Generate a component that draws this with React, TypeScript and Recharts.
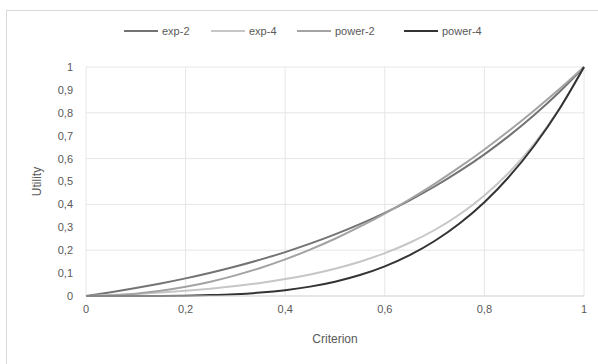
import { LineChart, Line, XAxis, YAxis, CartesianGrid } from 'recharts';

// criterion values (x)
const criterion = [0, 0.05, 0.1, 0.15, 0.2, 0.25, 0.3, 0.35, 0.4, 0.45, 0.5, 0.55, 0.6, 0.65, 0.7, 0.75, 0.8, 0.85, 0.9, 0.95, 1];

// utility curves
const exp2 = [0, 0.0165, 0.0347, 0.0548, 0.077, 0.1015, 0.1287, 0.1587, 0.1918, 0.2285, 0.2689, 0.3137, 0.3631, 0.4178, 0.4782, 0.545, 0.6187, 0.7003, 0.7904, 0.8899, 1];
const exp4 = [0, 0.0041, 0.0092, 0.0153, 0.0229, 0.0321, 0.0433, 0.057, 0.0738, 0.0942, 0.1192, 0.1497, 0.187, 0.2325, 0.2882, 0.3561, 0.4391, 0.5404, 0.6642, 0.8154, 1];
const power2 = [0, 0.0025, 0.01, 0.0225, 0.04, 0.0625, 0.09, 0.1225, 0.16, 0.2025, 0.25, 0.3025, 0.36, 0.4225, 0.49, 0.5625, 0.64, 0.7225, 0.81, 0.9025, 1];
const power4 = [0, 0.0000063, 0.0001, 0.0005, 0.0016, 0.0039, 0.0081, 0.015, 0.0256, 0.041, 0.0625, 0.0915, 0.1296, 0.1785, 0.2401, 0.3164, 0.4096, 0.522, 0.6561, 0.8145, 1];

const xTicks = [0, 0.2, 0.4, 0.6, 0.8, 1];
const yTicks = [0, 0.1, 0.2, 0.3, 0.4, 0.5, 0.6, 0.7, 0.8, 0.9, 1];

const SERIES = [
  { key: 'exp2', name: 'exp-2', color: '#737373' },
  { key: 'exp4', name: 'exp-4', color: '#c6c6c6' },
  { key: 'power2', name: 'power-2', color: '#a3a3a3' },
  { key: 'power4', name: 'power-4', color: '#333333' },
];
const LEGEND_X = [124, 211, 297, 404];

const data = criterion.map((x, i) => ({
  x,
  exp2: exp2[i],
  exp4: exp4[i],
  power2: power2[i],
  power4: power4[i],
}));

const FONT = '"Liberation Sans", Arial, sans-serif';
const comma = (v: number) => String(v).replace('.', ',');

export default function App() {
  return (
    <div style={{ position: 'absolute', left: 0, top: 0, width: 598, height: 364, background: '#fff', fontFamily: FONT }}>
      <div style={{ position: 'absolute', left: 6, top: 10, right: 0, bottom: 0, borderTop: '1px solid #d9d9d9', borderLeft: '1px solid #d9d9d9' }} />
      {SERIES.map((s, i) => (
        <div key={s.key} style={{ position: 'absolute', left: LEGEND_X[i], top: 25, display: 'flex', alignItems: 'center', fontSize: 11, color: '#595959', whiteSpace: 'nowrap' }}>
          <div style={{ width: 34, height: 2, background: s.color, marginRight: 4 }} />
          <span>{s.name}</span>
        </div>
      ))}
      <LineChart width={598} height={364} data={data} margin={{ top: 67, right: 14, bottom: 38, left: 30 }}>
        <CartesianGrid stroke="#e6e6e6" />
        <XAxis
          dataKey="x"
          type="number"
          domain={[0, 1]}
          ticks={xTicks}
          tickFormatter={comma}
          axisLine={{ stroke: '#d9d9d9' }}
          tickLine={false}
          tickSize={0}
          tickMargin={9}
          height={30}
          tick={{ fill: '#595959', fontSize: 11, fontFamily: FONT }}
          label={{ value: 'Criterion', position: 'bottom', offset: 8, fill: '#595959', fontSize: 12, fontFamily: FONT }}
        />
        <YAxis
          type="number"
          domain={[0, 1]}
          ticks={yTicks}
          tickFormatter={comma}
          axisLine={false}
          tickLine={false}
          tickSize={0}
          tickMargin={13}
          width={56}
          tick={{ fill: '#595959', fontSize: 11, fontFamily: FONT }}
          label={{ value: 'Utility', angle: -90, position: 'insideLeft', offset: 7, fill: '#595959', fontSize: 12, fontFamily: FONT, style: { textAnchor: 'middle' } }}
        />
        {SERIES.map((s) => (
          <Line
            key={s.key}
            type="monotone"
            dataKey={s.key}
            name={s.name}
            stroke={s.color}
            strokeWidth={2}
            dot={false}
            isAnimationActive={false}
          />
        ))}
      </LineChart>
    </div>
  );
}
